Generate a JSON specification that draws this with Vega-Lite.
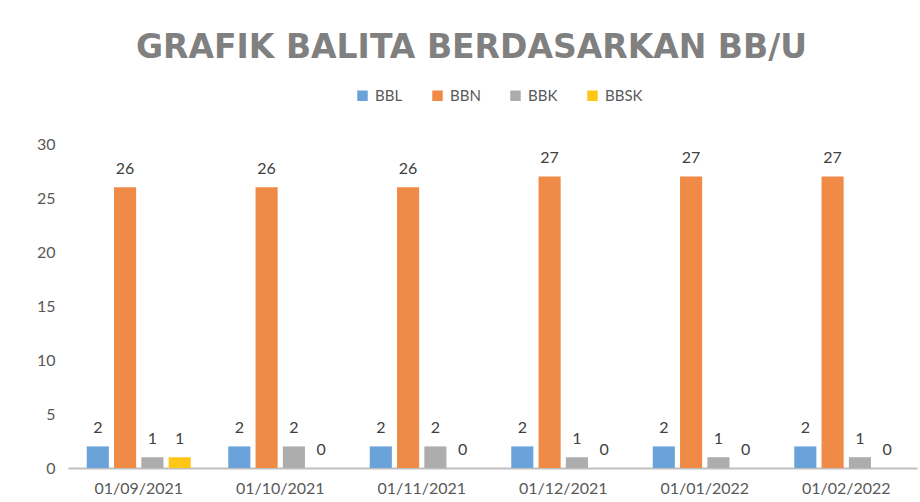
{
  "$schema": "https://vega.github.io/schema/vega-lite/v6.json",
  "width": 849,
  "height": 324,
  "autosize": {"type": "none"},
  "padding": {"left": 68, "top": 144, "right": 3, "bottom": 34},
  "background": "white",
  "title": {
    "text": "GRAFIK BALITA BERDASARKAN BB/U",
    "font": "DejaVu Sans",
    "fontSize": 33,
    "fontWeight": "bold",
    "color": "#808080",
    "anchor": "middle",
    "frame": "group",
    "dx": -21,
    "offset": 23
  },
  "data": {
    "values": [
      {"tanggal": "01/09/2021", "kategori": "BBL", "nilai": 2},
      {"tanggal": "01/09/2021", "kategori": "BBN", "nilai": 26},
      {"tanggal": "01/09/2021", "kategori": "BBK", "nilai": 1},
      {"tanggal": "01/09/2021", "kategori": "BBSK", "nilai": 1},
      {"tanggal": "01/10/2021", "kategori": "BBL", "nilai": 2},
      {"tanggal": "01/10/2021", "kategori": "BBN", "nilai": 26},
      {"tanggal": "01/10/2021", "kategori": "BBK", "nilai": 2},
      {"tanggal": "01/10/2021", "kategori": "BBSK", "nilai": 0},
      {"tanggal": "01/11/2021", "kategori": "BBL", "nilai": 2},
      {"tanggal": "01/11/2021", "kategori": "BBN", "nilai": 26},
      {"tanggal": "01/11/2021", "kategori": "BBK", "nilai": 2},
      {"tanggal": "01/11/2021", "kategori": "BBSK", "nilai": 0},
      {"tanggal": "01/12/2021", "kategori": "BBL", "nilai": 2},
      {"tanggal": "01/12/2021", "kategori": "BBN", "nilai": 27},
      {"tanggal": "01/12/2021", "kategori": "BBK", "nilai": 1},
      {"tanggal": "01/12/2021", "kategori": "BBSK", "nilai": 0},
      {"tanggal": "01/01/2022", "kategori": "BBL", "nilai": 2},
      {"tanggal": "01/01/2022", "kategori": "BBN", "nilai": 27},
      {"tanggal": "01/01/2022", "kategori": "BBK", "nilai": 1},
      {"tanggal": "01/01/2022", "kategori": "BBSK", "nilai": 0},
      {"tanggal": "01/02/2022", "kategori": "BBL", "nilai": 2},
      {"tanggal": "01/02/2022", "kategori": "BBN", "nilai": 27},
      {"tanggal": "01/02/2022", "kategori": "BBK", "nilai": 1},
      {"tanggal": "01/02/2022", "kategori": "BBSK", "nilai": 0}
    ]
  },
  "encoding": {
    "x": {
      "field": "tanggal",
      "type": "nominal",
      "sort": null,
      "title": null,
      "scale": {"paddingInner": 0.265, "paddingOuter": 0.1325},
      "axis": {
        "labelAngle": 0,
        "labelFont": "Lato",
        "labelFontSize": 16,
        "labelColor": "#595959",
        "labelPadding": 12,
        "ticks": false,
        "domainColor": "#BFBFBF",
        "domainWidth": 2
      }
    },
    "xOffset": {
      "field": "kategori",
      "type": "nominal",
      "sort": ["BBL", "BBN", "BBK", "BBSK"],
      "scale": {"paddingInner": 0.19, "paddingOuter": 0}
    },
    "y": {
      "field": "nilai",
      "type": "quantitative",
      "title": null,
      "scale": {"domain": [0, 30]},
      "axis": {
        "values": [0, 5, 10, 15, 20, 25, 30],
        "domain": false,
        "ticks": false,
        "grid": false,
        "labelFont": "Lato",
        "labelFontSize": 16,
        "labelColor": "#595959",
        "labelPadding": 13
      }
    }
  },
  "layer": [
    {
      "mark": {"type": "bar"},
      "encoding": {
        "color": {
          "field": "kategori",
          "type": "nominal",
          "sort": ["BBL", "BBN", "BBK", "BBSK"],
          "scale": {
            "domain": ["BBL", "BBN", "BBK", "BBSK"],
            "range": ["#6AA3DA", "#EF8A47", "#ADADAD", "#FFC618"]
          },
          "legend": {
            "title": null,
            "orient": "none",
            "legendX": 287,
            "legendY": -56,
            "direction": "horizontal",
            "symbolType": "square",
            "symbolSize": 110,
            "symbolStrokeWidth": 0,
            "labelFont": "Lato",
            "labelFontSize": 15,
            "labelColor": "#595959",
            "labelOffset": 5,
            "columnPadding": 27
          }
        }
      }
    },
    {
      "mark": {
        "type": "text",
        "baseline": "middle",
        "dy": -18,
        "font": "Lato",
        "fontSize": 16,
        "color": "#404040"
      },
      "encoding": {
        "text": {"field": "nilai", "type": "quantitative"}
      }
    }
  ],
  "config": {
    "view": {"stroke": null}
  }
}
